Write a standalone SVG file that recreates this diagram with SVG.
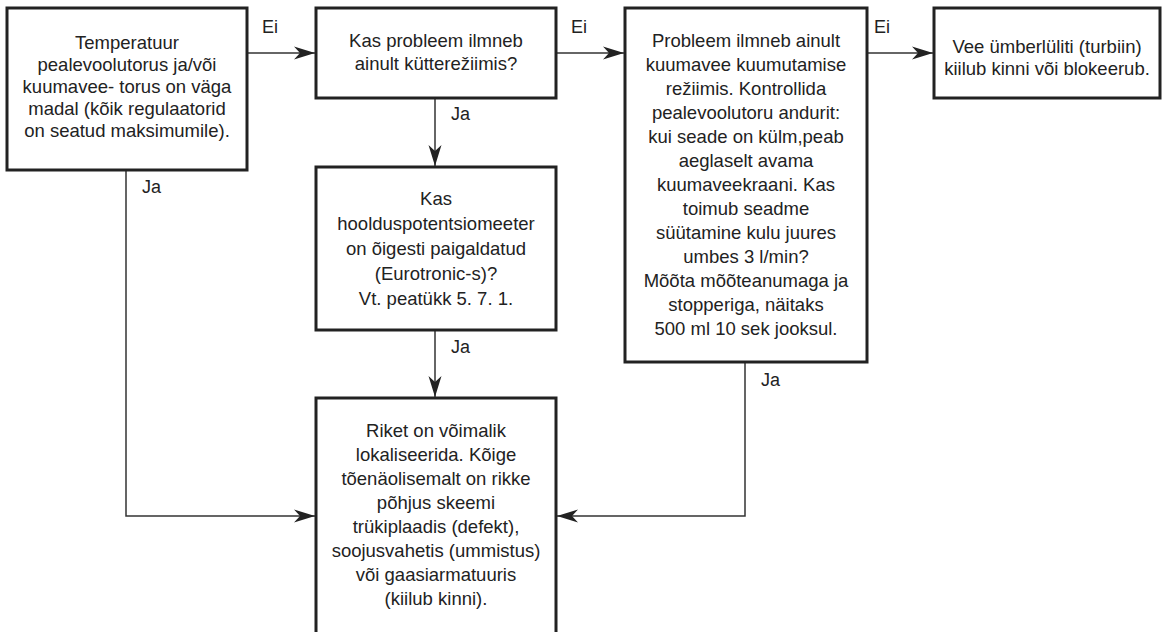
<svg xmlns="http://www.w3.org/2000/svg" width="1162" height="632" viewBox="0 0 1162 632">
<style>
.box{fill:#fff;stroke:#222;stroke-width:3}
.t{font-family:"Liberation Sans",Arial,sans-serif;font-size:18.5px;fill:#222;text-anchor:middle}
.l{font-family:"Liberation Sans",Arial,sans-serif;font-size:18px;fill:#222}
.c{fill:none;stroke:#333;stroke-width:1.5}
</style>
<defs>
<marker id="ah" markerUnits="userSpaceOnUse" markerWidth="24" markerHeight="16" viewBox="-22 -8 24 16" refX="0" refY="0" orient="auto">
<path d="M0,0 L-21,-6.5 L-15,0 L-21,6.5 Z" fill="#222"/>
</marker>
</defs>
<rect width="1162" height="632" fill="#fff"/>
<g id="connectors">
<line class="c" x1="247" y1="53" x2="315" y2="53" marker-end="url(#ah)"/>
<line class="c" x1="556" y1="53" x2="624" y2="53" marker-end="url(#ah)"/>
<line class="c" x1="867" y1="53" x2="933" y2="53" marker-end="url(#ah)"/>
<line class="c" x1="435" y1="98" x2="435" y2="166" marker-end="url(#ah)"/>
<line class="c" x1="435" y1="330" x2="435" y2="397" marker-end="url(#ah)"/>
<polyline class="c" points="126,170 126,516 315,516" marker-end="url(#ah)"/>
<polyline class="c" points="745,362 745,516 557,516" marker-end="url(#ah)"/>
<text class="l" x="262" y="33">Ei</text>
<text class="l" x="571" y="33">Ei</text>
<text class="l" x="874" y="33">Ei</text>
<text class="l" x="451" y="120">Ja</text>
<text class="l" x="451" y="353">Ja</text>
<text class="l" x="142" y="193">Ja</text>
<text class="l" x="761" y="386">Ja</text>
</g>
<g id="n1">
<rect class="box" x="7" y="8" width="240" height="162"/>
<text class="t" x="127" y="49">Temperatuur</text>
<text class="t" x="127" y="71">pealevoolutorus ja/või</text>
<text class="t" x="127" y="93">kuumavee- torus on väga</text>
<text class="t" x="127" y="115">madal (kõik regulaatorid</text>
<text class="t" x="127" y="137">on seatud maksimumile).</text>
</g>
<g id="n2">
<rect class="box" x="316" y="8" width="240" height="90"/>
<text class="t" x="436" y="47">Kas probleem ilmneb</text>
<text class="t" x="436" y="70">ainult kütterežiimis?</text>
</g>
<g id="n3">
<rect class="box" x="625" y="8" width="242" height="354"/>
<text class="t" x="746" y="47">Probleem ilmneb ainult</text>
<text class="t" x="746" y="71">kuumavee kuumutamise</text>
<text class="t" x="746" y="95">režiimis. Kontrollida</text>
<text class="t" x="746" y="119">pealevoolutoru andurit:</text>
<text class="t" x="746" y="143">kui seade on külm,peab</text>
<text class="t" x="746" y="167">aeglaselt avama</text>
<text class="t" x="746" y="191">kuumaveekraani. Kas</text>
<text class="t" x="746" y="215">toimub seadme</text>
<text class="t" x="746" y="239">süütamine kulu juures</text>
<text class="t" x="746" y="263">umbes 3 l/min?</text>
<text class="t" x="746" y="287">Mõõta mõõteanumaga ja</text>
<text class="t" x="746" y="311">stopperiga, näitaks</text>
<text class="t" x="746" y="335">500 ml 10 sek jooksul.</text>
</g>
<g id="n4">
<rect class="box" x="934" y="8" width="226" height="90"/>
<text class="t" x="1047" y="53">Vee ümberlüliti (turbiin)</text>
<text class="t" x="1047" y="75">kiilub kinni või blokeerub.</text>
</g>
<g id="n5">
<rect class="box" x="316" y="167" width="240" height="163"/>
<text class="t" x="436" y="205">Kas</text>
<text class="t" x="436" y="230">hoolduspotentsiomeeter</text>
<text class="t" x="436" y="255">on õigesti paigaldatud</text>
<text class="t" x="436" y="280">(Eurotronic-s)?</text>
<text class="t" x="436" y="305">Vt. peatükk 5. 7. 1.</text>
</g>
<g id="n6">
<rect class="box" x="316" y="398" width="240" height="250"/>
<text class="t" x="436" y="437">Riket on võimalik</text>
<text class="t" x="436" y="461">lokaliseerida. Kõige</text>
<text class="t" x="436" y="485">tõenäolisemalt on rikke</text>
<text class="t" x="436" y="509">põhjus skeemi</text>
<text class="t" x="436" y="533">trükiplaadis (defekt),</text>
<text class="t" x="436" y="557">soojusvahetis (ummistus)</text>
<text class="t" x="436" y="581">või gaasiarmatuuris</text>
<text class="t" x="436" y="605">(kiilub kinni).</text>
</g>
</svg>
